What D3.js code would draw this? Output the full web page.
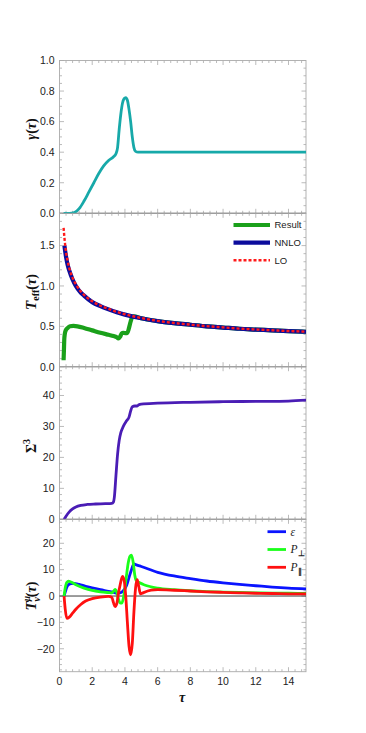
<!DOCTYPE html>
<html>
<head>
<meta charset="utf-8">
<script src="https://cdn.jsdelivr.net/npm/d3@7"></script>
<style>
  body { margin: 0; background: #fff; }
  svg { display: block; }
  .tick-label { font-family: "Liberation Sans", Arial, sans-serif; font-size: 10.5px; fill: #222; }
  .ylab { font-family: "Liberation Serif", "DejaVu Serif", serif; font-weight: bold; font-size: 14px; fill: #111; }
  .leg { font-family: "Liberation Sans", Arial, sans-serif; font-size: 9.5px; fill: #222; }
</style>
</head>
<body>
<script>
// ---- data ----
const tauGamma = [0.25, 0.6, 0.9, 1.2, 1.5, 1.8, 2.1, 2.4, 2.7, 3.0, 3.3, 3.45, 3.55, 3.65, 3.75, 3.85, 3.95, 4.05, 4.15, 4.25, 4.35, 4.45, 4.55, 4.65, 4.8, 5.5, 8, 11, 15.1]
const gammaVals = [0, 0, 0.004, 0.03, 0.08, 0.14, 0.2, 0.26, 0.31, 0.345, 0.37, 0.39, 0.43, 0.55, 0.65, 0.72, 0.75, 0.757, 0.74, 0.68, 0.6, 0.5, 0.43, 0.405, 0.4, 0.4, 0.4, 0.4, 0.4]

const tauResult = [0.25, 0.27, 0.29, 0.32, 0.38, 0.5, 0.65, 0.85, 1.1, 1.5, 2.0, 2.5, 3.0, 3.3, 3.5, 3.6, 3.7, 3.8, 3.9, 4.05, 4.15, 4.25, 4.35, 4.45, 4.55, 5, 6, 7, 8, 9, 10, 11, 12, 13, 14, 15.1]
const resultVals = [0.08, 0.2, 0.33, 0.4, 0.45, 0.48, 0.5, 0.505, 0.5, 0.48, 0.45, 0.42, 0.395, 0.38, 0.365, 0.35, 0.37, 0.41, 0.42, 0.415, 0.42, 0.48, 0.56, 0.615, 0.625, 0.6, 0.565, 0.54, 0.52, 0.5, 0.485, 0.47, 0.46, 0.45, 0.44, 0.433]

const tauNNLO = [0.3, 0.4, 0.5, 0.6, 0.8, 1.0, 1.25, 1.5, 2, 2.5, 3, 3.5, 4, 4.5, 5, 6, 7, 8, 9, 10, 11, 12, 13, 14, 15.1]
const nnloVals = [1.5, 1.36, 1.26, 1.19, 1.08, 1.0, 0.93, 0.88, 0.8, 0.75, 0.71, 0.675, 0.645, 0.62, 0.6, 0.565, 0.54, 0.52, 0.5, 0.485, 0.47, 0.46, 0.45, 0.44, 0.433]

const tauLO = [0.25, 0.3, 0.4, 0.5, 0.6, 0.8, 1.0, 1.25, 1.5, 2, 2.5, 3, 3.5, 4, 4.5, 5, 6, 7, 8, 9, 10, 11, 12, 13, 14, 15.1]
const loVals = [1.72, 1.6, 1.42, 1.31, 1.22, 1.1, 1.02, 0.945, 0.89, 0.81, 0.755, 0.715, 0.68, 0.65, 0.625, 0.603, 0.568, 0.542, 0.521, 0.502, 0.487, 0.472, 0.461, 0.451, 0.442, 0.434]

const tauSigma = [0.28, 0.4, 0.6, 0.8, 1.0, 1.3, 1.7, 2.2, 2.8, 3.2, 3.3, 3.35, 3.45, 3.55, 3.65, 3.75, 3.9, 4.1, 4.25, 4.35, 4.45, 4.6, 4.75, 4.85, 5.0, 6, 8, 10, 12, 14, 15.1]
const sigmaVals = [0, 1.0, 2.4, 3.4, 4.0, 4.5, 4.8, 4.95, 5.05, 5.15, 5.6, 7, 14, 21, 25.5, 28, 30, 31.8, 33, 35, 36.4, 36.6, 36.6, 37.0, 37.2, 37.5, 37.8, 38.0, 38.1, 38.2, 38.5]

const tauEps = [0.28, 0.4, 0.5, 0.7, 0.9, 1.2, 1.6, 2.0, 2.5, 3.0, 3.3, 3.5, 3.7, 3.9, 4.1, 4.25, 4.4, 4.55, 4.7, 5, 6, 7, 8, 9, 10, 11, 12, 13, 14, 15.1]
const epsVals = [0, 2.5, 4.0, 4.7, 4.8, 4.4, 3.7, 3.1, 2.4, 1.8, 1.4, 1.1, 1.2, 2.0, 4, 7, 10, 12.2, 11.8, 11.2, 9.0, 7.6, 6.6, 5.7, 5.0, 4.4, 3.9, 3.4, 3.0, 2.7]

const tauPperp = [0.28, 0.35, 0.45, 0.55, 0.7, 1.0, 1.5, 2.0, 2.5, 3.0, 3.2, 3.3, 3.4, 3.5, 3.6, 3.7, 3.8, 3.9, 4.0, 4.1, 4.2, 4.3, 4.4, 4.5, 4.6, 4.7, 4.9, 5.2, 6, 7, 8, 9, 10, 11, 12, 13, 14, 15.1]
const pperpVals = [0, 3, 5.2, 5.6, 5.3, 4.3, 3.0, 2.1, 1.6, 1.3, 1.2, 1.8, 2.5, 1.5, -1.0, -2.6, -2.7, -1.0, 3, 8, 12.5, 15, 15.5, 13, 8, 5.8, 5.0, 4.2, 3.0, 2.4, 2.0, 1.7, 1.5, 1.35, 1.2, 1.1, 1.05, 1.0]

const tauPpar = [0.28, 0.35, 0.45, 0.6, 0.8, 1.0, 1.3, 1.6, 2.0, 2.5, 3.0, 3.2, 3.3, 3.4, 3.5, 3.6, 3.7, 3.85, 3.95, 4.05, 4.15, 4.25, 4.35, 4.45, 4.55, 4.65, 4.75, 4.85, 4.95, 5.1, 5.6, 6, 7, 8, 9, 10, 11, 12, 13, 14, 15.1]
const pparVals = [0, -5, -8.5, -8.0, -6.5, -5.0, -3.2, -1.9, -1.0, -0.4, -0.1, -0.5, -2.5, -4.0, -3.0, 1.0, 4.0, 7.4, 6.0, 0, -10, -19, -22.3, -18, -6, 3, 6.2, 3.5, 0.8, 1.2, 2.2, 2.4, 2.2, 1.9, 1.6, 1.4, 1.2, 1.05, 0.95, 0.85, 0.8]

const xTicks = [0, 2, 4, 6, 8, 10, 12, 14]
const gammaTicks = [0, 0.2, 0.4, 0.6, 0.8, 1.0]
const teffTicks = [0, 0.5, 1.0, 1.5]
const sigmaTicks = [0, 10, 20, 30, 40]
const tmunuTicks = [-20, -10, 0, 10, 20]

// ---- layout ----
const width = 366, height = 733
const left = 59.5, right = 306

const svg = d3.select("body").append("svg")
    .attr("width", width)
    .attr("height", height)

const x = d3.scaleLinear().domain([0, 15.07]).range([left, right])

function minorRange(lo, hi, step) {
    const out = []
    for (let i = Math.ceil(lo / step - 1e-9); i * step <= hi + 1e-9; i++) out.push(+(i * step).toFixed(6))
    return out
}

function drawPanel(p) {
    const y = d3.scaleLinear().domain(p.domain).range([p.bottom, p.top])
    const g = svg.append("g")

    g.append("clipPath").attr("id", "clip" + p.id)
        .append("rect").attr("x", left).attr("y", p.top)
        .attr("width", right - left).attr("height", p.bottom - p.top)

    // ticks on all sides, pointing inward
    const xMinor = minorRange(0, 15.07, 0.4)
    const yMinor = minorRange(p.domain[0], p.domain[1], p.minor)
    const tk = g.append("g").attr("stroke", "#aaa").attr("stroke-width", 0.8)
    xMinor.forEach(v => {
        const major = xTicks.some(t => Math.abs(t - v) < 1e-6)
        const len = major ? 4.5 : 2.5
        tk.append("line").attr("x1", x(v)).attr("x2", x(v)).attr("y1", p.bottom).attr("y2", p.bottom - len)
        tk.append("line").attr("x1", x(v)).attr("x2", x(v)).attr("y1", p.top).attr("y2", p.top + len)
    })
    yMinor.forEach(v => {
        const major = p.ticks.some(t => Math.abs(t - v) < 1e-6)
        const len = major ? 4.5 : 2.5
        tk.append("line").attr("x1", left).attr("x2", left + len).attr("y1", y(v)).attr("y2", y(v))
        tk.append("line").attr("x1", right).attr("x2", right - len).attr("y1", y(v)).attr("y2", y(v))
    })

    g.append("rect").attr("x", left).attr("y", p.top)
        .attr("width", right - left).attr("height", p.bottom - p.top)
        .attr("fill", "none").attr("stroke", "#aaa").attr("stroke-width", 0.9)

    // zero axis
    if (p.domain[0] <= 0 && p.domain[1] >= 0) {
        g.append("line").attr("x1", left).attr("x2", right).attr("y1", y(0)).attr("y2", y(0))
            .attr("stroke", p.zeroColor).attr("stroke-width", p.zeroWidth)
    }

    g.selectAll(".ytl").data(p.ticks).enter().append("text")
        .attr("class", "tick-label")
        .attr("x", left - 5).attr("y", d => y(d) + 3.8)
        .attr("text-anchor", "end")
        .text(p.fmt)

    const line = d3.line().x(d => x(d[0])).y(d => y(d[1])).curve(d3.curveMonotoneX)
    const body = g.append("g").attr("clip-path", "url(#clip" + p.id + ")")
    p.series.forEach(s => {
        body.append("path")
            .datum(d3.zip(s.t, s.v))
            .attr("d", line)
            .attr("fill", "none")
            .attr("stroke", s.color)
            .attr("stroke-width", s.w)
            .attr("stroke-dasharray", s.dash || null)
            .attr("stroke-linejoin", "round")
    })

    // rotated y label
    const lab = svg.append("text").attr("class", "ylab")
        .attr("transform", `translate(${p.labX},${p.labY}) rotate(-90)`)
        .attr("text-anchor", "middle")
    p.label(lab)
    return y
}

const numFmt1 = d => d3.format(".1f")(d)
const intFmt = d => d < 0 ? "\u2212" + Math.abs(d) : String(d)

drawPanel({
    id: 1, top: 60.5, bottom: 213.3, domain: [0, 1], ticks: gammaTicks, minor: 0.05,
    fmt: numFmt1, zeroColor: "#666", zeroWidth: 1,
    labX: 36, labY: 129,
    label: t => {
        t.append("tspan").attr("font-style", "italic").text("\u03b3")
        t.append("tspan").text("(")
        t.append("tspan").attr("font-style", "italic").text("\u03c4")
        t.append("tspan").text(")")
    },
    series: [{ t: tauGamma, v: gammaVals, color: "#17a9a9", w: 2.8 }]
})

drawPanel({
    id: 2, top: 213.3, bottom: 366.7, domain: [0, 1.9], ticks: teffTicks, minor: 0.1,
    fmt: numFmt1, zeroColor: "#777", zeroWidth: 1,
    labX: 36, labY: 292,
    label: t => {
        t.append("tspan").attr("font-style", "italic").attr("font-size", 15).text("T")
        t.append("tspan").attr("font-size", 10).attr("dy", 3).text("eff")
        t.append("tspan").attr("dy", -3).text("(")
        t.append("tspan").attr("font-style", "italic").text("\u03c4")
        t.append("tspan").text(")")
    },
    series: [
        { t: tauResult, v: resultVals, color: "#1aa01a", w: 4.2 },
        { t: tauNNLO, v: nnloVals, color: "#0c0c9c", w: 4.2 },
        { t: tauLO, v: loVals, color: "#ff1a1a", w: 2.4, dash: "3,2" }
    ]
})

drawPanel({
    id: 3, top: 366.7, bottom: 519.3, domain: [0, 49.3], ticks: sigmaTicks, minor: 2,
    fmt: intFmt, zeroColor: "#777", zeroWidth: 1,
    labX: 36, labY: 446,
    label: t => {
        t.append("tspan").text("\u03a3")
        t.append("tspan").attr("font-size", 10).attr("dy", -6).text("3")
    },
    series: [{ t: tauSigma, v: sigmaVals, color: "#4a1db5", w: 2.8 }]
})

drawPanel({
    id: 4, top: 519.3, bottom: 671.7, domain: [-28.7, 29.1], ticks: tmunuTicks, minor: 2,
    fmt: intFmt, zeroColor: "#222", zeroWidth: 0.9,
    labX: 36, labY: 596,
    label: t => {
        t.append("tspan").attr("font-style", "italic").attr("font-size", 15).text("T")
        t.append("tspan").attr("font-style", "italic").attr("font-size", 9.5).attr("dy", -6).text("\u03bc")
        t.append("tspan").attr("font-style", "italic").attr("font-size", 9.5).attr("dx", -5.5).attr("dy", 10).text("\u03bd")
        t.append("tspan").attr("dy", -4).text("(")
        t.append("tspan").attr("font-style", "italic").text("\u03c4")
        t.append("tspan").text(")")
    },
    series: [
        { t: tauEps, v: epsVals, color: "#0a14ff", w: 2.8 },
        { t: tauPperp, v: pperpVals, color: "#1aff1a", w: 2.8 },
        { t: tauPpar, v: pparVals, color: "#ff1010", w: 2.8 }
    ]
})

// x tick labels and axis title
svg.selectAll(".xtl").data(xTicks).enter().append("text")
    .attr("class", "tick-label")
    .attr("x", d => x(d)).attr("y", 684.5)
    .attr("text-anchor", "middle")
    .text(d => d)

svg.append("text").attr("class", "ylab")
    .attr("x", 182).attr("y", 702)
    .attr("text-anchor", "middle")
    .attr("font-style", "italic")
    .text("\u03c4")

// legend, panel 2
const leg2 = [
    { name: "Result", color: "#1aa01a", w: 4.2 },
    { name: "NNLO", color: "#0c0c9c", w: 4.2 },
    { name: "LO", color: "#ff1a1a", w: 2.4, dash: "3,2" }
]
leg2.forEach((d, i) => {
    const yy = 225 + i * 17.6
    svg.append("line").attr("x1", 233.5).attr("x2", 270).attr("y1", yy).attr("y2", yy)
        .attr("stroke", d.color).attr("stroke-width", d.w).attr("stroke-dasharray", d.dash || null)
    svg.append("text").attr("class", "leg").attr("x", 274.5).attr("y", yy + 3.4).text(d.name)
})

// legend, panel 4
const leg4 = [
    { color: "#0a14ff", sub: null, main: "\u03b5" },
    { color: "#1aff1a", sub: "\u22a5", main: "P" },
    { color: "#ff1010", sub: "\u2225", main: "P" }
]
leg4.forEach((d, i) => {
    const yy = 531.7 + i * 17.8
    svg.append("line").attr("x1", 267.5).attr("x2", 286).attr("y1", yy).attr("y2", yy)
        .attr("stroke", d.color).attr("stroke-width", 2.8)
    const t = svg.append("text").attr("x", 290.5).attr("y", yy + 3.8)
        .attr("font-family", "'Liberation Serif', serif").attr("font-size", 11.5).attr("fill", "#222")
    t.append("tspan").attr("font-style", "italic").text(d.main)
    if (d.sub) t.append("tspan").attr("font-size", 7.5).attr("dy", 2.5).attr("font-weight", "bold").text(d.sub)
})
</script>
</body>
</html>
